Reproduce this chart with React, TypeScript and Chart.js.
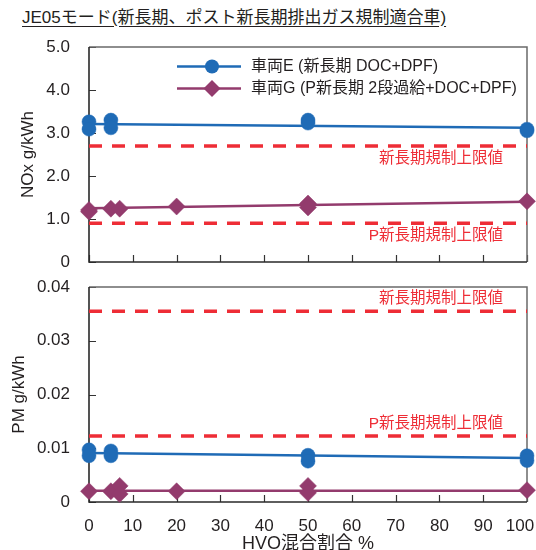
import React, { useEffect, useRef } from 'react';
import { Chart, registerables } from 'chart.js';

Chart.register(...registerables);

const FONT = "'Liberation Sans', 'Noto Sans CJK JP', sans-serif";
const TEXT = '#231f20';
const BLUE = '#1f6bb6';
const PURPLE = '#933b6d';
const RED = '#ee2d36';

const TITLE = 'JE05モード(新長期、ポスト新長期排出ガス規制適合車)';
const X_TITLE = 'HVO混合割合 %';
const NOX_TITLE = 'NOx g/kWh';
const PM_TITLE = 'PM g/kWh';
const SERIES_NAMES = ['車両E (新長期 DOC+DPF)', '車両G (P新長期 2段過給+DOC+DPF)'];
const LIMIT_NAMES = ['新長期規制上限値', 'P新長期規制上限値'];

const X_TICKS = [0, 10, 20, 30, 40, 50, 60, 70, 80, 90, 100];
const NOX_TICKS = [0, 1, 2, 3, 4, 5];
const PM_TICKS = [0, 0.01, 0.02, 0.03, 0.04];

// NOx panel
const E_NOX_X = [0, 0, 5, 5, 50, 50, 100, 100];
const E_NOX_Y = [3.26, 3.09, 3.3, 3.12, 3.3, 3.23, 3.09, 3.05];
const G_NOX_X = [0, 0, 5, 7, 20, 50, 50, 100];
const G_NOX_Y = [1.21, 1.17, 1.24, 1.24, 1.29, 1.36, 1.27, 1.41];
const E_NOX_TREND = [3.21, 3.12];
const G_NOX_TREND = [1.25, 1.4];
const NOX_LIMITS = [2.7, 0.9];

// PM panel
const E_PM_X = [0, 0, 5, 5, 50, 50, 100, 100];
const E_PM_Y = [0.0097, 0.0086, 0.0095, 0.0086, 0.0087, 0.0076, 0.0086, 0.0077];
const G_PM_X = [0, 5, 7, 7, 20, 50, 50, 100];
const G_PM_Y = [0.002, 0.002, 0.003, 0.0015, 0.002, 0.003, 0.0017, 0.0022];
const E_PM_TREND = [0.0091, 0.0082];
const G_PM_TREND = [0.0021, 0.0021];
const PM_LIMITS = [0.0355, 0.0123];

const TREND_X = [0, 100];

const pts = (xs: number[], ys: number[]) => xs.map((x, i) => ({ x, y: ys[i] }));

const decorPlugin = {
  id: 'decor',
  beforeDatasetsDraw(chart: any, _args: any, opts: any) {
    const { ctx, chartArea: a } = chart;
    const xs = chart.scales.x;
    const ys = chart.scales.y;
    ctx.save();
    ctx.strokeStyle = '#333';
    ctx.lineWidth = 1.2;
    ctx.beginPath();
    X_TICKS.forEach((v) => {
      const px = Math.round(xs.getPixelForValue(v)) + 0.5;
      ctx.moveTo(px, a.bottom);
      ctx.lineTo(px, a.bottom - 7);
    });
    (opts.yTicks as number[]).forEach((v) => {
      const py = Math.round(ys.getPixelForValue(v)) + 0.5;
      ctx.moveTo(a.left, py);
      ctx.lineTo(a.left + 7, py);
    });
    ctx.stroke();
    ctx.strokeStyle = '#6a6a6a';
    ctx.lineWidth = 1.5;
    ctx.beginPath();
    ctx.moveTo(a.left, a.top);
    ctx.lineTo(a.right, a.top);
    ctx.lineTo(a.right, a.bottom);
    ctx.stroke();
    ctx.strokeStyle = '#2a2a2a';
    ctx.lineWidth = 1.6;
    ctx.beginPath();
    ctx.moveTo(a.left, a.top);
    ctx.lineTo(a.left, a.bottom);
    ctx.lineTo(a.right, a.bottom);
    ctx.stroke();
    ctx.restore();
  },
  afterDatasetsDraw(chart: any, _args: any, opts: any) {
    const { ctx, chartArea: a } = chart;
    const ys = chart.scales.y;
    ctx.save();
    ctx.font = `15.5px ${FONT}`;
    ctx.fillStyle = RED;
    ctx.textAlign = 'right';
    ctx.textBaseline = 'middle';
    (opts.limits as number[]).forEach((v, i) => {
      const py = ys.getPixelForValue(v) + opts.labelOffset;
      ctx.fillText(LIMIT_NAMES[i], a.right - 24, py);
    });
    if (opts.legend) {
      const rows = [
        { color: BLUE, style: 'circle', r: 7 },
        { color: PURPLE, style: 'rectRot', r: 8.5 },
      ];
      rows.forEach((row, i) => {
        const y = a.top + 19.5 + i * 22;
        ctx.strokeStyle = row.color;
        ctx.lineWidth = 2.5;
        ctx.beginPath();
        ctx.moveTo(a.left + 88, y);
        ctx.lineTo(a.left + 152, y);
        ctx.stroke();
        ctx.fillStyle = row.color;
        ctx.beginPath();
        if (row.style === 'circle') {
          ctx.arc(a.left + 123, y, row.r, 0, Math.PI * 2);
        } else {
          const cx = a.left + 123;
          ctx.moveTo(cx, y - row.r);
          ctx.lineTo(cx + row.r, y);
          ctx.lineTo(cx, y + row.r);
          ctx.lineTo(cx - row.r, y);
          ctx.closePath();
        }
        ctx.fill();
        ctx.fillStyle = TEXT;
        ctx.font = `16px ${FONT}`;
        ctx.textAlign = 'left';
        ctx.textBaseline = 'middle';
        ctx.fillText(SERIES_NAMES[i], a.left + 162, y);
      });
    }
    ctx.restore();
  },
};

function buildDatasets(
  eX: number[], eY: number[], gX: number[], gY: number[],
  eTrend: number[], gTrend: number[], limits: number[]
) {
  return [
    {
      data: pts(eX, eY),
      pointStyle: 'circle',
      pointRadius: 7,
      pointBackgroundColor: BLUE,
      pointBorderColor: BLUE,
      pointBorderWidth: 0.5,
      showLine: false,
      clip: false,
    },
    {
      data: pts(gX, gY),
      pointStyle: 'rectRot',
      pointRadius: 8.5,
      pointBackgroundColor: PURPLE,
      pointBorderColor: PURPLE,
      pointBorderWidth: 0.5,
      showLine: false,
      clip: false,
    },
    {
      data: pts(TREND_X, eTrend),
      showLine: true,
      borderColor: BLUE,
      borderWidth: 2.5,
      pointRadius: 0,
    },
    {
      data: pts(TREND_X, gTrend),
      showLine: true,
      borderColor: PURPLE,
      borderWidth: 2.5,
      pointRadius: 0,
    },
    ...limits.map((v) => ({
      data: pts(TREND_X, [v, v]),
      showLine: true,
      borderColor: RED,
      borderWidth: 3.5,
      borderDash: [13, 10],
      pointRadius: 0,
    })),
  ];
}

function makeConfig(kind: 'nox' | 'pm'): any {
  const isNox = kind === 'nox';
  const datasets = isNox
    ? buildDatasets(E_NOX_X, E_NOX_Y, G_NOX_X, G_NOX_Y, E_NOX_TREND, G_NOX_TREND, NOX_LIMITS)
    : buildDatasets(E_PM_X, E_PM_Y, G_PM_X, G_PM_Y, E_PM_TREND, G_PM_TREND, PM_LIMITS);
  const yTicks = isNox ? NOX_TICKS : PM_TICKS;
  const lastX = X_TICKS[X_TICKS.length - 1];
  return {
    type: 'scatter',
    data: { datasets },
    plugins: [decorPlugin],
    options: {
      responsive: false,
      animation: false,
      devicePixelRatio: 1,
      events: [],
      layout: {
        padding: isNox
          ? { top: 47, bottom: 288, left: 0, right: 9 }
          : { top: 287, bottom: 0, left: 0, right: 9 },
      },
      plugins: {
        legend: { display: false },
        tooltip: { enabled: false },
        decor: {
          yTicks,
          limits: isNox ? NOX_LIMITS : PM_LIMITS,
          labelOffset: isNox ? 12.5 : -12,
          legend: isNox,
        },
      },
      scales: {
        x: {
          type: 'linear',
          min: 0,
          max: 100,
          offset: false,
          display: !isNox,
          grid: { display: false },
          border: { display: false },
          afterBuildTicks: (s: any) => {
            s.ticks = X_TICKS.map((v) => ({ value: v }));
          },
          ticks: {
            color: TEXT,
            font: { size: 17, family: FONT },
            padding: 6,
            maxRotation: 0,
            autoSkip: false,
            // keep the last label inside the picture, as in the reference
            callback: (v: number) => (v === lastX ? String(v) + '   ' : String(v)),
          },
          title: {
            display: !isNox,
            text: X_TITLE,
            color: TEXT,
            font: { size: 18, family: FONT, lineHeight: 1 },
            padding: { top: 0, bottom: -3 },
          },
          afterFit: (s: any) => {
            s.height = isNox ? 0 : 48;
            s.paddingLeft = 0;
            s.paddingRight = 0;
          },
        },
        y: {
          type: 'linear',
          min: 0,
          max: isNox ? 5 : 0.04,
          grid: { display: false },
          border: { display: false },
          afterBuildTicks: (s: any) => {
            s.ticks = yTicks.map((v) => ({ value: v }));
          },
          ticks: {
            color: TEXT,
            font: { size: 17, family: FONT },
            padding: 11,
            autoSkip: false,
            callback: (v: number) => (v === 0 ? '0' : v.toFixed(isNox ? 1 : 2)),
          },
          title: {
            display: true,
            text: isNox ? NOX_TITLE : PM_TITLE,
            color: TEXT,
            font: { size: 17, family: FONT },
            padding: { top: isNox ? 18 : 9.5, bottom: 0 },
          },
          afterFit: (s: any) => {
            s.width = 89;
            s.paddingTop = 0;
            s.paddingBottom = 0;
          },
        },
      },
    },
  };
}

function PanelChart({ kind }: { kind: 'nox' | 'pm' }) {
  const ref = useRef<HTMLCanvasElement | null>(null);
  useEffect(() => {
    if (!ref.current) return;
    const chart = new Chart(ref.current, makeConfig(kind));
    return () => chart.destroy();
  }, [kind]);
  return (
    <canvas
      ref={ref}
      width={536}
      height={550}
      style={{ position: 'absolute', left: 0, top: 0, width: 536, height: 550 }}
    />
  );
}

export default function App() {
  return (
    <div
      style={{
        position: 'fixed',
        left: 0,
        top: 0,
        width: 536,
        height: 550,
        background: '#fff',
        overflow: 'hidden',
      }}
    >
      <div
        style={{
          position: 'absolute',
          left: 22,
          top: 7,
          fontFamily: FONT,
          fontSize: 17,
          lineHeight: '21px',
          color: TEXT,
          textDecoration: 'underline',
          textUnderlineOffset: 3,
          whiteSpace: 'nowrap',
        }}
      >
        {TITLE}
      </div>
      <PanelChart kind="nox" />
      <PanelChart kind="pm" />
    </div>
  );
}
